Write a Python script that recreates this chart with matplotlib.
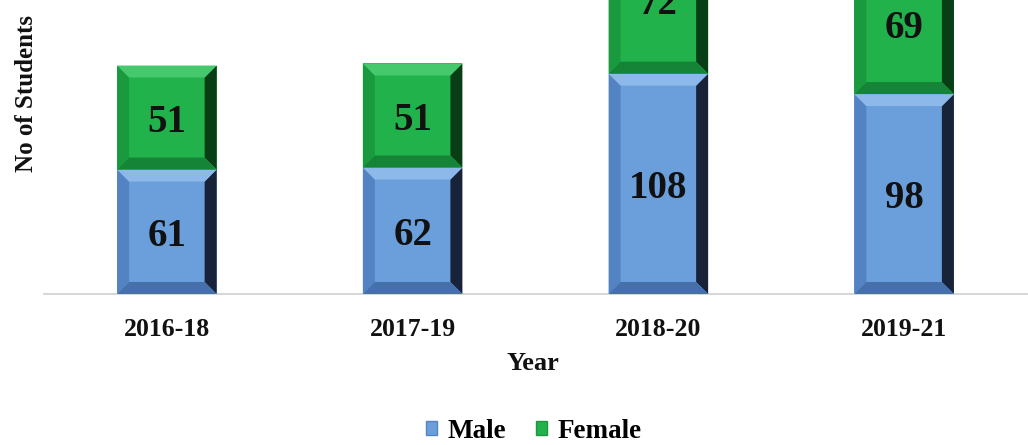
import matplotlib
matplotlib.use("Agg")
import matplotlib.pyplot as plt
from matplotlib.patches import Polygon, Patch

years = ["2016-18", "2017-19", "2018-20", "2019-21"]
male = [61, 62, 108, 98]
female = [51, 51, 72, 69]

plt.rcParams['font.family'] = ['Liberation Serif', 'DejaVu Serif']
plt.rcParams['font.weight'] = 'bold'

W, H = 1028, 445
fig = plt.figure(figsize=(W / 100, H / 100), dpi=100)
ax = fig.add_axes([44 / W, 151 / H, 983 / W, 408 / H])
ax.set_xlim(-0.5, 3.5)
ax.set_ylim(0, 200)

styles = {
    "Male": dict(face="#6A9FDB", top="#8DB8EA", left="#5383C2", bottom="#4670AA", right="#18233A"),
    "Female": dict(face="#22B24C", top="#45C96C", left="#1A9A3F", bottom="#158436", right="#083D16"),
}

bw = 0.405
px_x = (983 / 4.0)
px_y = 408 / 200.0
bev = 12
dx = bev / px_x
dy = bev / px_y

def draw_bevel(x, b, h, st):
    x0, x1 = x - bw / 2, x + bw / 2
    y0, y1 = b, b + h
    polys = [
        ([(x0, y0), (x0 + dx, y0 + dy), (x0 + dx, y1 - dy), (x0, y1)], st["left"]),
        ([(x1, y0), (x1 - dx, y0 + dy), (x1 - dx, y1 - dy), (x1, y1)], st["right"]),
        ([(x0, y1), (x1, y1), (x1 - dx, y1 - dy), (x0 + dx, y1 - dy)], st["top"]),
        ([(x0, y0), (x1, y0), (x1 - dx, y0 + dy), (x0 + dx, y0 + dy)], st["bottom"]),
    ]
    for pts, c in polys:
        ax.add_patch(Polygon(pts, closed=True, facecolor=c, edgecolor='none', zorder=3))

xs = list(range(len(years)))
ax.bar(xs, male, width=bw, color=styles["Male"]["face"], zorder=2)
ax.bar(xs, female, width=bw, bottom=male, color=styles["Female"]["face"], zorder=2)

for i in xs:
    draw_bevel(i, 0, male[i], styles["Male"])
    draw_bevel(i, male[i], female[i], styles["Female"])
    ax.text(i, male[i] / 2, str(male[i]), ha='center', va='center_baseline',
            fontsize=28, fontweight='bold', color='#111111', zorder=5)
    ax.text(i, male[i] + female[i] / 2, str(female[i]), ha='center', va='center_baseline',
            fontsize=28, fontweight='bold', color='#111111', zorder=5)

for s in ["top", "right", "left"]:
    ax.spines[s].set_visible(False)
ax.spines["bottom"].set_color("#D0D0D0")
ax.spines["bottom"].set_linewidth(1.2)
ax.set_yticks([])
ax.set_xticks(xs)
ax.set_xticklabels(years, fontsize=18.5, fontweight='bold', color='#111111')
ax.tick_params(axis='x', length=0, pad=17)

fig.text(533 / W, 1 - 363 / H, "Year", ha='center', va='center',
         fontsize=19, fontweight='bold', color='#111111')
fig.text(27 / W, 1 - 94 / H, "No of Students", ha='center', va='center',
         rotation=90, fontsize=18, fontweight='bold', color='#111111')

handles = [Patch(facecolor=styles["Male"]["face"], edgecolor=styles["Male"]["left"], label="Male"),
           Patch(facecolor=styles["Female"]["face"], edgecolor=styles["Female"]["left"], label="Female")]
fig.legend(handles=handles, loc='center', bbox_to_anchor=(534 / W, 1 - 431 / H), ncol=2,
           frameon=False, fontsize=19.5, handlelength=0.4, handleheight=0.4,
           handletextpad=0.4, columnspacing=1.1, borderaxespad=0, borderpad=0)

fig.savefig("out.png", dpi=100)
